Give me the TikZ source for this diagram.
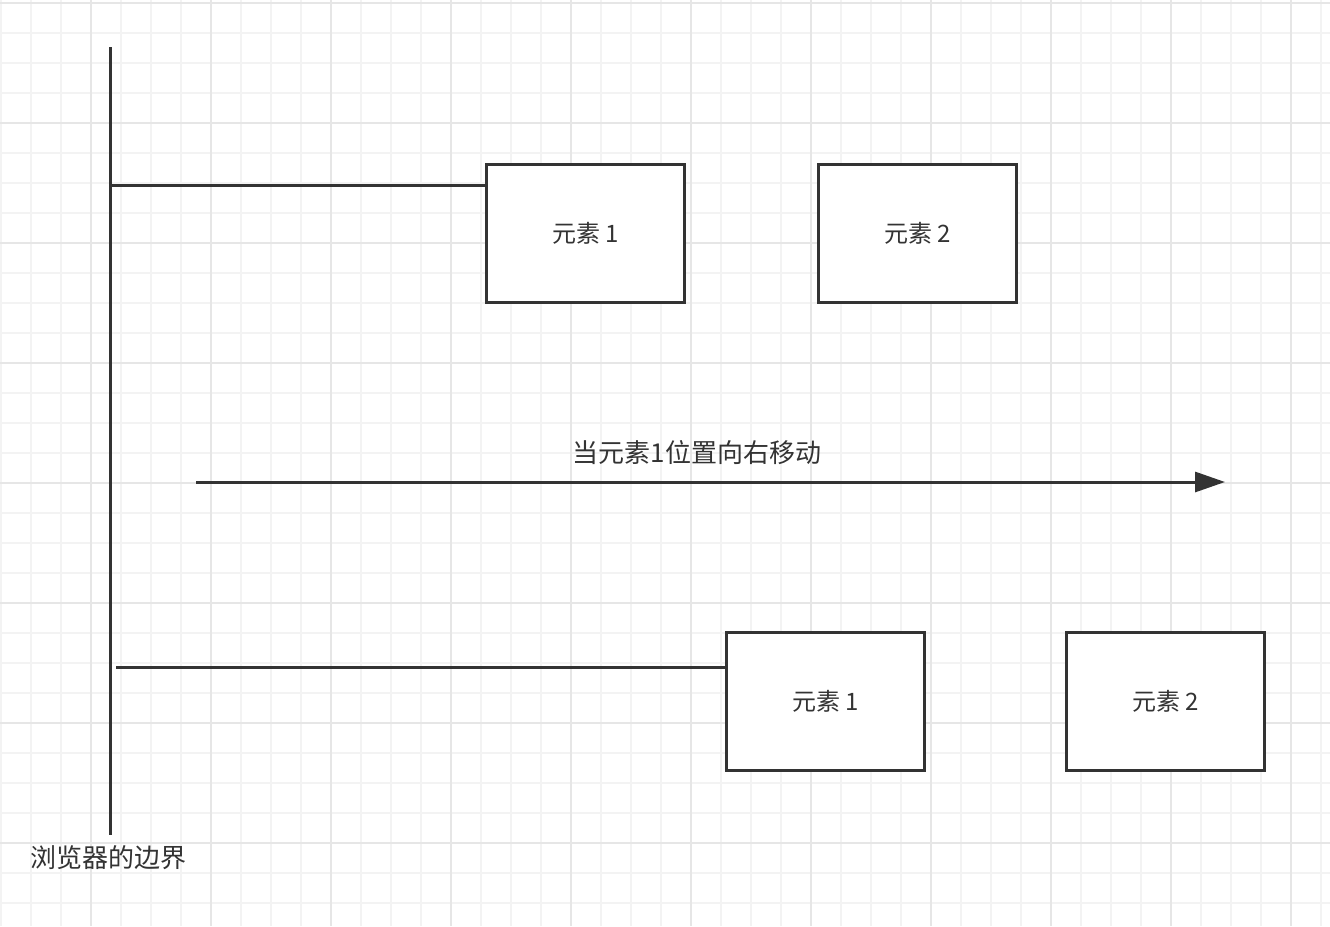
\documentclass[tikz,border=0pt]{standalone}
\usepackage{fontspec}
\setmainfont{Noto Sans CJK SC}
\usepackage{tikz}
\usetikzlibrary{arrows.meta,positioning}
\definecolor{ink}{RGB}{51,51,51}
\definecolor{gridminor}{RGB}{243,243,243}
\definecolor{gridmajor}{RGB}{230,230,230}

\begin{document}
\begin{tikzpicture}[
  x=1pt, y=-1pt,
  elem/.style={draw=ink, line width=3pt, fill=white, minimum width=198pt,
               minimum height=138pt, text=ink, font=\fontsize{24}{28}\selectfont},
  lbl/.style={text=ink, font=\fontsize{26}{30}\selectfont, inner sep=0pt},
  edge/.style={draw=ink, line width=3pt},
  ar/.style={edge, -{Triangle[length=30pt, width=20pt]}}]

\useasboundingbox (0,0) rectangle (1330,926);
\fill[white] (0,0) rectangle (1330,926);

% --- background grid
\foreach \gx in {1,31,...,1321} \draw[gridminor, line width=2pt] (\gx,0) -- (\gx,926);
\foreach \gy in {3,33,...,923} \draw[gridminor, line width=2pt] (0,\gy) -- (1330,\gy);
\foreach \gx in {91,211,...,1291} \draw[gridmajor, line width=2pt] (\gx,0) -- (\gx,926);
\foreach \gy in {3,123,...,843} \draw[gridmajor, line width=2pt] (0,\gy) -- (1330,\gy);

% --- browser edge
\coordinate (edgeTop) at (110,47);
\coordinate (edgeBot) at (110,835);
\node[lbl, anchor=west] (edgeLbl) at (30,858) {浏览器的边界};

% --- before: two elements
\node[elem] (elemA) at (585.5,233.5) {元素 1};
\node[elem, right=131pt of elemA] (elemB) {元素 2};
\coordinate (offA) at (110,185);

% --- move arrow
\coordinate (mvS) at (196,482);
\coordinate (mvE) at (1225,482);
\node[lbl] (mvLbl) at (697,453) {当元素1位置向右移动};

% --- after: two elements
\node[elem] (elemC) at (825.5,701.5) {元素 1};
\node[elem, right=139pt of elemC] (elemD) {元素 2};
\coordinate (offC) at (116,667);

\draw[edge] (edgeTop) -- (edgeBot);
\draw[edge] (offA) -- (offA -| elemA.west);
\draw[edge] (offC) -- (offC -| elemC.west);
\draw[ar] (mvS) -- (mvE);
\end{tikzpicture}
\end{document}
